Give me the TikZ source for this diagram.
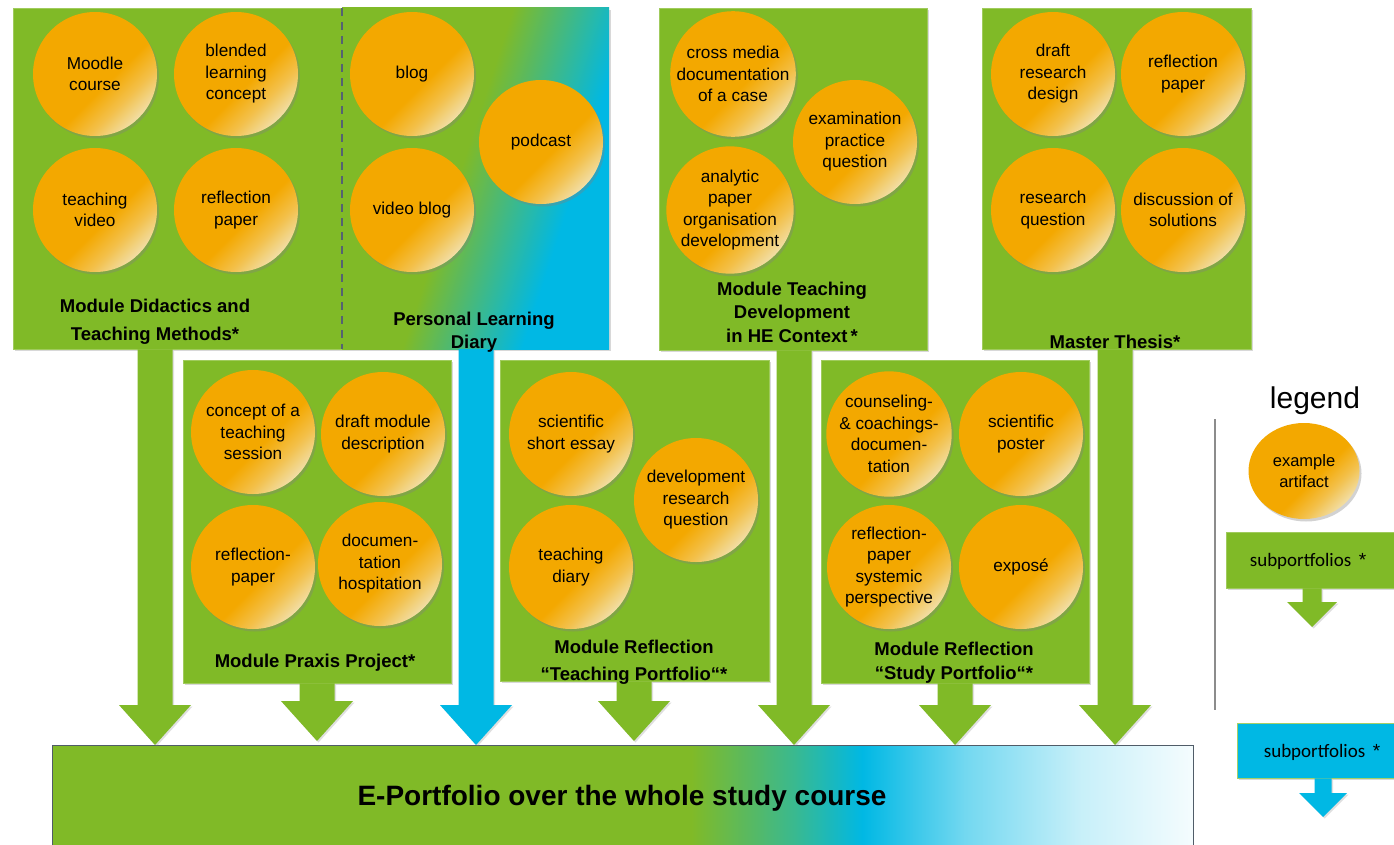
\documentclass[tikz,border=0pt]{standalone}
\usepackage{fontspec}
\setmainfont{Liberation Sans}
\newfontfamily\carlito{Carlito}
\usetikzlibrary{calc,shadows,shapes.geometric}
\definecolor{grn}{RGB}{128,186,39}
\definecolor{blu}{RGB}{0,184,228}
\definecolor{arto}{RGB}{243,168,0}
\definecolor{artl}{RGB}{242,222,165}
\definecolor{dashgray}{RGB}{84,98,114}
\definecolor{bord}{RGB}{80,92,104}
\pgfdeclareverticalshading{artshade}{100bp}{color(0bp)=(artl); color(25bp)=(artl); color(34bp)=(arto!55!artl); color(44bp)=(arto); color(100bp)=(arto)}
\pgfdeclarehorizontalshading{pldshade}{100bp}{color(0bp)=(grn); color(47bp)=(grn); color(57bp)=(blu!50!grn); color(67bp)=(blu); color(100bp)=(blu)}
\pgfdeclarehorizontalshading{barshade}{100bp}{color(0bp)=(grn); color(53bp)=(grn); color(57.5bp)=(blu!55!grn); color(60.5bp)=(blu); color(65bp)=(blu!55!white); color(70bp)=(blu!22!white); color(75bp)=(blu!4!white); color(100bp)=(white)}
\newcommand{\blockarrow}[6]{%
  \path[#1] let \p1=(#2), \p2=(#3) in
    (\x2-#4,\y1) -- (\x2+#4,\y1) -- (\x2+#4,\y2+#6) -- (\x2+#5,\y2+#6) -- (\x2,\y2)
    -- (\x2-#5,\y2+#6) -- (\x2-#4,\y2+#6) -- cycle;}
\tikzset{
  art/.style={circle, minimum size=124bp, inner sep=0pt, shading=artshade, shading angle=45,
    drop shadow={opacity=0.35, shadow xshift=2bp, shadow yshift=-2.5bp},
    align=center, text=black, font=\fontsize{17.2bp}{21.5bp}\selectfont},
  modbox/.style={rectangle, fill=grn, draw=grn!75!white, line width=0.6bp, inner sep=0pt,
    drop shadow={opacity=0.3, shadow xshift=2bp, shadow yshift=-2bp}},
  modtitle/.style={align=center, inner sep=0pt, text=black},
  garrow/.style={fill=grn, drop shadow={opacity=0.25, shadow xshift=1.5bp, shadow yshift=-1.5bp}},
  barrow/.style={fill=blu, drop shadow={opacity=0.25, shadow xshift=1.5bp, shadow yshift=-1.5bp}},
  legtext/.style={font=\carlito\fontsize{19bp}{23bp}\selectfont, text=black, inner sep=0pt},
}
\begin{document}
\begin{tikzpicture}[x=1bp, y=-1bp]
\useasboundingbox (0,0) rectangle (1394,844);
\clip (0,0) rectangle (1394,844);
\fill[white] (0,0) rectangle (1394,844);

% bottom bar
\node[rectangle, shading=barshade, draw=bord, line width=1bp, minimum width=1140bp, minimum height=115bp, inner sep=0pt] (bar) at (623,802.5) {};
\node[font=\bfseries\fontsize{28bp}{32bp}\selectfont, inner sep=0pt] (bartext) at (622,798) {E-Portfolio over the whole study course};

% arrow tips on the bar
\coordinate (t1) at (155,745);
\coordinate (t2) at (317,741);
\coordinate (t3) at (476,745);
\coordinate (t4) at (634,741);
\coordinate (t5) at (794,745);
\coordinate (t6) at (955,745);
\coordinate (t7) at (1115,745);

% module boxes
\node[modbox, minimum width=329bp, minimum height=341bp] (didactics) at (177.5,178.5) {};
\node[rectangle, shading=pldshade, shading angle=-18, inner sep=0pt, minimum width=267bp, minimum height=341bp,
  drop shadow={opacity=0.3, shadow xshift=2bp, shadow yshift=-2bp}] (pld) at (475.5,178.5) {};
\draw[dashgray, line width=2bp, dash pattern=on 8bp off 6bp] (pld.north west) -- (pld.south west);
\node[modbox, minimum width=268bp, minimum height=342bp] (tdev) at (793,179) {};
\node[modbox, minimum width=269bp, minimum height=341bp] (thesis) at (1116.5,178.5) {};
\node[modbox, minimum width=268bp, minimum height=323bp] (praxis) at (317,521.5) {};
\node[modbox, minimum width=269bp, minimum height=321bp] (tport) at (634.5,520.5) {};
\node[modbox, minimum width=268bp, minimum height=323bp] (sport) at (955,521.5) {};

% big arrows
\blockarrow{garrow}{didactics.south -| t1}{t1}{17.5bp}{36bp}{40bp}
\blockarrow{garrow}{praxis.south -| t2}{t2}{17.5bp}{36bp}{40bp}
\blockarrow{barrow}{pld.south -| t3}{t3}{17.5bp}{36bp}{40bp}
\blockarrow{garrow}{tport.south -| t4}{t4}{17.5bp}{36bp}{40bp}
\blockarrow{garrow}{tdev.south -| t5}{t5}{17.5bp}{36bp}{40bp}
\blockarrow{garrow}{sport.south -| t6}{t6}{17.5bp}{36bp}{40bp}
\blockarrow{garrow}{thesis.south -| t7}{t7}{17.5bp}{36bp}{40bp}

% artifacts: didactics
\node[art] (moodle) at (95,74) {Moodle\\course};
\node[art] (blended) at (236,74) {blended\\learning\\concept};
\node[art] (tvideo) at (95,210) {teaching\\video};
\node[art] (refl1) at (236,210) {reflection\\paper};
\node[modtitle, font=\bfseries\fontsize{18.5bp}{28bp}\selectfont] (didtitle) at (155,322) {Module Didactics and\\Teaching Methods*};

% PLD
\node[art] (blog) at (412,74) {blog};
\node[art] (vblog) at (412,210) {video blog};
\node[art] (podcast) at (541,142) {podcast};
\node[modtitle, font=\bfseries\fontsize{18.5bp}{23bp}\selectfont] (pldtitle) at (474,332) {Personal Learning\\Diary};

% teaching development
\node[art] (cross) at (733,74) {cross media\\documentation\\of a case};
\node[art] (exam) at (855,142) {examination\\practice\\question};
\node[art] (analytic) at (730,210) {analytic\\paper\\organisation\\development};
\node[modtitle, font=\bfseries\fontsize{18.5bp}{23.5bp}\selectfont] (tdevtitle) at (792,312) {Module Teaching\\Development\\in HE Context\,*};

% master thesis
\node[art] (draft) at (1053,74) {draft\\research\\design};
\node[art] (refl2) at (1183,74) {reflection\\paper};
\node[art] (rq) at (1053,210) {research\\question};
\node[art] (disc) at (1183,210) {discussion of\\solutions};
\node[modtitle, font=\bfseries\fontsize{18.5bp}{23bp}\selectfont] (thesistitle) at (1115,342) {Master Thesis*};

% praxis
\node[art] (concept) at (253,432) {concept of a\\teaching\\session};
\node[art] (dmd) at (383,434) {draft module\\description};
\node[art] (refl3) at (253,567) {reflection-\\paper};
\node[art] (doc) at (380,564) {documen-\\tation\\hospitation};
\node[modtitle, font=\bfseries\fontsize{18.5bp}{23bp}\selectfont] (praxistitle) at (315,663) {Module Praxis Project*};

% teaching portfolio
\node[art] (essay) at (571,434) {scientific\\short essay};
\node[art] (devrq) at (696,500) {development\\research\\question};
\node[art] (tdiary) at (571,567) {teaching\\diary};
\node[modtitle, font=\bfseries\fontsize{18.5bp}{27bp}\selectfont] (tporttitle) at (634,662) {Module Reflection\\“Teaching Portfolio“*};

% study portfolio
\node[art] (counsel) at (889,434) {counseling-\\\& coachings-\\documen-\\tation};
\node[art] (poster) at (1021,434) {scientific\\poster};
\node[art] (refl4) at (889,567) {reflection-\\paper\\systemic\\perspective};
\node[art] (expose) at (1021,567) {exposé};
\node[modtitle, font=\bfseries\fontsize{18.5bp}{24bp}\selectfont] (sporttitle) at (954,663) {Module Reflection\\“Study Portfolio“*};

% legend
\node[font=\fontsize{30bp}{36bp}\selectfont, inner sep=0pt] (legtitle) at (1315,401) {legend};
\coordinate (lineA) at (1215,419);
\coordinate (lineB) at (1215,710);
\draw[black!45, line width=2bp] (lineA) -- (lineB);
\node[ellipse, minimum width=111bp, minimum height=96bp, inner sep=0pt, shading=artshade, shading angle=45,
  drop shadow={opacity=0.35, shadow xshift=2bp, shadow yshift=-2.5bp},
  align=center, font=\fontsize{16.5bp}{21bp}\selectfont] (legart) at (1304,471) {example\\artifact};
\node[modbox, minimum width=174bp, minimum height=56bp] (leggreen) at (1313,560) {};
\node[legtext] (leggreentext) at (1308,561) {subportfolios \,{\rmfamily *}};
\coordinate (lg) at (1312,627);
\blockarrow{garrow}{leggreen.south -| lg}{lg}{9.5bp}{25bp}{25bp}
\node[rectangle, fill=blu, draw=grn!70!white, line width=0.8bp, inner sep=0pt, minimum width=173bp, minimum height=55bp,
  drop shadow={opacity=0.3, shadow xshift=2bp, shadow yshift=-2bp}] (legblue) at (1323.5,750.5) {};
\node[legtext] (legbluetext) at (1322,752) {subportfolios \,{\rmfamily *}};
\coordinate (lb) at (1323,817);
\blockarrow{barrow}{legblue.south -| lb}{lb}{8.5bp}{24bp}{24bp}
\end{tikzpicture}
\end{document}
